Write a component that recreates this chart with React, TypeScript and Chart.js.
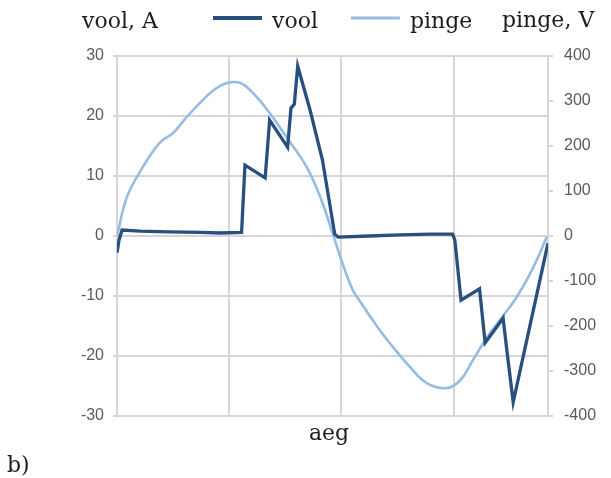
import { useEffect, useRef } from "react";
import { Chart, registerables } from "chart.js";

Chart.register(...registerables);

// ---- data (x = sample index over one period) ----
const voolX = [0, 1.8, 4.5, 20.5, 47, 74, 92, 111, 114, 132, 136, 152, 155, 158, 161, 172, 183, 194, 197, 225, 252, 279, 299, 301, 306.5, 323, 328, 344, 347.5, 353, 384];
const voolY = [-2.8, -0.7, 1.0, 0.8, 0.7, 0.6, 0.5, 0.6, 11.8, 9.7, 19.3, 14.8, 21.3, 22, 28.3, 21, 12.7, 0.3, -0.2, 0, 0.2, 0.3, 0.3, -0.7, -10.7, -8.8, -17.8, -13.7, -19.3, -27.7, -1.2];

const pingeX = [0, 8.9, 23, 38, 50, 62, 74, 86, 98, 110, 121, 134, 151, 169, 181, 192, 202, 210, 214, 234, 246, 261, 276, 294, 306, 317, 330, 341, 356, 371, 383];
const pingeY = [0, 87, 153, 207, 229, 264, 296, 324, 340, 340, 318, 280, 220, 153, 87, 7, -69, -120, -136, -209, -247, -291, -327, -338, -320, -276, -224, -187, -136, -69, -2];

const seriesNames = ["vool", "pinge"];
const leftAxisTitle = "vool, A";
const rightAxisTitle = "pinge, V";
const xAxisTitle = "aeg";
const panelLabel = "b)";

const leftTicks = [-30, -20, -10, 0, 10, 20, 30];
const rightTicks = [-400, -300, -200, -100, 0, 100, 200, 300, 400];
const xGridValues = [0, 100, 200, 300];
const xMax = 384;

const DARK = "#28507f";
const LIGHT = "#95bde3";
const GRID = "#d6d6d6";
const TICK_COLOR = "#5a5a5a";
const TEXT_COLOR = "#1c1c1c";
const SERIF = '"DejaVu Serif", serif';
const SANS = '"Liberation Sans", sans-serif';

const textPlugin = {
  id: "customTexts",
  afterDraw(chart: any) {
    const ctx = chart.ctx as CanvasRenderingContext2D;
    ctx.save();
    ctx.fillStyle = TEXT_COLOR;
    ctx.font = `22px ${SERIF}`;
    ctx.textBaseline = "alphabetic";
    ctx.textAlign = "left";
    ctx.fillText(leftAxisTitle, 82, 28);
    ctx.fillText(rightAxisTitle, 502, 27);

    // legend
    let x = 213;
    const widths = [4, 3];
    chart.data.datasets.forEach((ds: any, i: number) => {
      ctx.strokeStyle = ds.borderColor;
      ctx.lineWidth = widths[i];
      ctx.beginPath();
      ctx.moveTo(x, 18);
      ctx.lineTo(x + 49, 18);
      ctx.stroke();
      ctx.fillStyle = TEXT_COLOR;
      ctx.fillText(ds.label, x + 59, 28);
      x += 59 + ctx.measureText(ds.label).width + 33;
    });

    ctx.textAlign = "center";
    ctx.fillText(xAxisTitle, 329, 440);
    ctx.textAlign = "left";
    ctx.fillText(panelLabel, 7, 472);
    ctx.restore();
  },
};

export default function App() {
  const ref = useRef<HTMLCanvasElement | null>(null);

  useEffect(() => {
    if (!ref.current) return;
    const chart = new Chart(ref.current, {
      type: "line",
      data: {
        datasets: [
          {
            label: seriesNames[0],
            data: voolX.map((x, i) => ({ x, y: voolY[i] })),
            borderColor: DARK,
            backgroundColor: DARK,
            borderWidth: 3.3,
            pointRadius: 0,
            tension: 0,
            yAxisID: "y",
          },
          {
            label: seriesNames[1],
            data: pingeX.map((x, i) => ({ x, y: pingeY[i] })),
            borderColor: LIGHT,
            backgroundColor: LIGHT,
            borderWidth: 2.6,
            pointRadius: 0,
            tension: 0.4,
            yAxisID: "y1",
          },
        ],
      },
      options: {
        responsive: false,
        animation: false,
        devicePixelRatio: 1,
        layout: { padding: { top: 56, bottom: 62, left: 0, right: 0 } },
        plugins: { legend: { display: false }, tooltip: { enabled: false }, title: { display: false } },
        scales: {
          x: {
            type: "linear",
            min: 0,
            max: xMax,
            afterBuildTicks: (scale: any) => {
              scale.ticks = xGridValues.map((v) => ({ value: v }));
            },
            afterFit: (scale: any) => {
              scale.height = 0;
            },
            ticks: { display: false },
            grid: { color: GRID, lineWidth: 2, drawTicks: false },
            border: { display: false },
          },
          y: {
            type: "linear",
            position: "left",
            min: leftTicks[0],
            max: leftTicks[leftTicks.length - 1],
            afterBuildTicks: (scale: any) => {
              scale.ticks = leftTicks.map((v) => ({ value: v }));
            },
            afterFit: (scale: any) => {
              scale.width = 117;
            },
            ticks: {
              color: TICK_COLOR,
              font: { family: SANS, size: 16 },
              padding: 9,
            },
            grid: { color: GRID, lineWidth: 2, drawTicks: true, tickLength: 4 },
            border: { display: true, color: GRID, width: 2 },
          },
          y1: {
            type: "linear",
            position: "right",
            min: rightTicks[0],
            max: rightTicks[rightTicks.length - 1],
            afterBuildTicks: (scale: any) => {
              scale.ticks = rightTicks.map((v) => ({ value: v }));
            },
            afterFit: (scale: any) => {
              scale.width = 63;
            },
            ticks: {
              color: TICK_COLOR,
              font: { family: SANS, size: 16 },
              padding: 11,
            },
            grid: { color: GRID, lineWidth: 2, drawOnChartArea: false, drawTicks: true, tickLength: 5 },
            border: { display: true, color: GRID, width: 2 },
          },
        },
      },
      plugins: [textPlugin],
    });
    return () => chart.destroy();
  }, []);

  return (
    <canvas
      ref={ref}
      width={611}
      height={478}
      style={{ position: "fixed", left: 0, top: 0, width: 611, height: 478, background: "#fff" }}
    />
  );
}
